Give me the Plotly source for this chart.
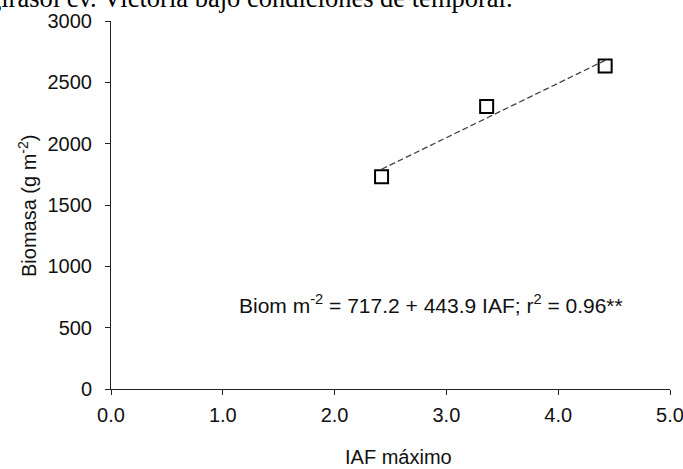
import plotly.graph_objects as go

# Maximum leaf area index (IAF) and biomass per treatment
iaf = [2.42, 3.36, 4.42]
biomasa = [1730, 2303, 2633]

# Fitted linear regression: Biom = a + b * IAF
intercept = 717.2
slope = 443.9
r2 = 0.96

x_ticks = [0, 1, 2, 3, 4, 5]
y_ticks = [0, 500, 1000, 1500, 2000, 2500, 3000]

fit_x = [min(iaf), max(iaf)]
fit_y = [intercept + slope * v for v in fit_x]

SANS = "Liberation Sans, Arial, sans-serif"
SERIF = "Liberation Serif, Times New Roman, serif"

fig = go.Figure()

fig.add_trace(go.Scatter(
    x=fit_x, y=fit_y, mode="lines",
    line=dict(color="#444444", width=1.3, dash="6px,3px"),
    showlegend=False, hoverinfo="skip",
))

fig.add_trace(go.Scatter(
    x=iaf, y=biomasa, mode="markers",
    marker=dict(symbol="square-open", size=13, color="black",
                line=dict(color="black", width=2)),
    showlegend=False,
))

axis_common = dict(
    showgrid=False, zeroline=False, showline=True,
    linecolor="#222222", linewidth=1,
    ticks="outside", ticklen=5, tickwidth=1, tickcolor="#222222",
    tickfont=dict(family=SANS, size=20, color="#111111"),
    ticklabeloverflow="allow",
)

fig.update_xaxes(range=[0, 5], tickvals=x_ticks, tickformat=".1f",
                 ticklabelstandoff=3, **axis_common)
fig.update_yaxes(range=[0, 3000], tickvals=y_ticks,
                 ticklabelstandoff=9, **axis_common)

W, H = 683, 469
L, R, T, B = 111, 13, 21, 80
pw, ph = W - L - R, H - T - B


def px_x(p):
    return (p - L) / pw


def px_y(p):
    return (H - B - p) / ph


fig.add_annotation(
    text="girasol cv. Victoria bajo condiciones de temporal.",
    xref="paper", yref="paper", x=px_x(-14), y=px_y(15),
    xanchor="left", yanchor="bottom", showarrow=False,
    font=dict(family=SERIF, size=26.5, color="black"),
)

fig.add_annotation(
    text="Biomasa (g m<sup>-2</sup>)", textangle=-90,
    xref="paper", yref="paper", x=px_x(27), y=0.5,
    xanchor="center", yanchor="middle", showarrow=False,
    font=dict(family=SANS, size=20, color="#111111"),
)

fig.add_annotation(
    text="IAF máximo",
    xref="paper", yref="paper", x=px_x(398), y=px_y(457),
    xanchor="center", yanchor="middle", showarrow=False,
    font=dict(family=SANS, size=20, color="#111111"),
)

fig.add_annotation(
    text=f"Biom m<sup>-2</sup> = {intercept} + {slope} IAF; r<sup>2</sup> = {r2}**",
    xref="x", yref="y", x=1.13, y=690,
    xanchor="left", yanchor="middle", showarrow=False,
    font=dict(family=SANS, size=21, color="#111111"),
)

fig.update_layout(
    width=W, height=H,
    margin=dict(l=L, r=R, t=T, b=B, autoexpand=False),
    paper_bgcolor="white", plot_bgcolor="white",
)

fig.write_html("out.html")
